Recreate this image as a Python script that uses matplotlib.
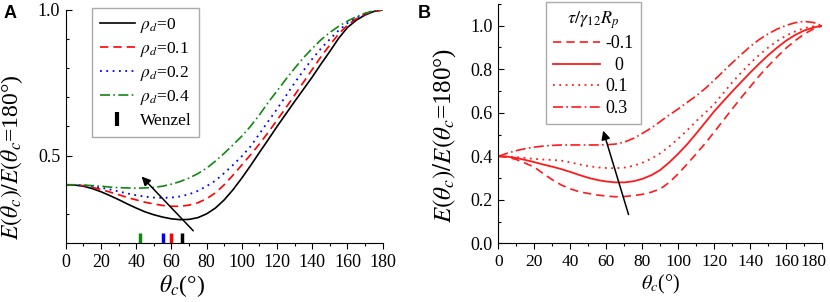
import matplotlib
matplotlib.use("Agg")
import matplotlib.pyplot as plt
from matplotlib.lines import Line2D
from matplotlib.ticker import MultipleLocator
from matplotlib.transforms import ScaledTranslation
import numpy as np

plt.rcParams["font.family"] = ["Liberation Serif", "DejaVu Serif"]
plt.rcParams["mathtext.fontset"] = "stix"
plt.rcParams["font.size"] = 13

# ---- panel A data: rho_d series (every 5 deg) ----
theta = list(range(0, 181, 5))
rho_0 = [0.400, 0.399, 0.395, 0.387, 0.376, 0.363, 0.349, 0.334, 0.320, 0.307, 0.297, 0.289,
         0.283, 0.280, 0.281, 0.287, 0.300, 0.320, 0.348, 0.383, 0.423, 0.466, 0.511, 0.555,
         0.600, 0.643, 0.686, 0.728, 0.770, 0.815, 0.858, 0.903, 0.940, 0.965, 0.983, 0.995, 1.000]
rho_01 = [0.400, 0.399, 0.397, 0.391, 0.384, 0.375, 0.366, 0.356, 0.348, 0.340, 0.334, 0.329,
          0.326, 0.326, 0.330, 0.338, 0.352, 0.372, 0.400, 0.433, 0.468, 0.503, 0.540, 0.580,
          0.622, 0.664, 0.708, 0.752, 0.796, 0.840, 0.880, 0.918, 0.948, 0.970, 0.986, 0.996, 1.000]
rho_02 = [0.400, 0.399, 0.398, 0.394, 0.390, 0.384, 0.377, 0.370, 0.364, 0.359, 0.356, 0.355,
          0.356, 0.360, 0.367, 0.379, 0.395, 0.414, 0.440, 0.468, 0.498, 0.532, 0.575, 0.618,
          0.660, 0.705, 0.750, 0.792, 0.832, 0.868, 0.900, 0.930, 0.955, 0.973, 0.988, 0.997, 1.000]
rho_04 = [0.400, 0.400, 0.399, 0.397, 0.395, 0.392, 0.390, 0.389, 0.388, 0.389, 0.391, 0.395,
          0.402, 0.411, 0.423, 0.438, 0.457, 0.481, 0.508, 0.537, 0.567, 0.601, 0.640, 0.683,
          0.722, 0.762, 0.800, 0.836, 0.868, 0.898, 0.923, 0.944, 0.962, 0.977, 0.989, 0.997, 1.000]
rho_labels = [r"$\rho_d$=0", r"$\rho_d$=0.1", r"$\rho_d$=0.2", r"$\rho_d$=0.4"]
wenzel_theta = [66, 60, 55, 42]
arrow_a = [(73.5, 0.235), (42, 0.435)]

# ---- panel B data: tau / gamma12 Rp series ----
tau_m01 = [0.400, 0.396, 0.385, 0.368, 0.350, 0.320, 0.292, 0.268, 0.250, 0.237, 0.229, 0.222,
           0.217, 0.214, 0.215, 0.219, 0.225, 0.235, 0.250, 0.280, 0.320, 0.365, 0.412, 0.460,
           0.512, 0.565, 0.618, 0.670, 0.720, 0.770, 0.815, 0.858, 0.898, 0.932, 0.962, 0.985, 1.000]
tau_0 = [0.400, 0.398, 0.392, 0.383, 0.373, 0.362, 0.352, 0.341, 0.328, 0.314, 0.301, 0.291,
         0.284, 0.280, 0.280, 0.285, 0.296, 0.313, 0.337, 0.372, 0.412, 0.456, 0.505, 0.556,
         0.607, 0.653, 0.698, 0.742, 0.785, 0.826, 0.865, 0.900, 0.932, 0.958, 0.978, 0.992, 1.000]
tau_01 = [0.400, 0.399, 0.396, 0.392, 0.388, 0.385, 0.383, 0.380, 0.372, 0.363, 0.355, 0.349,
          0.346, 0.345, 0.348, 0.356, 0.370, 0.389, 0.414, 0.445, 0.481, 0.520, 0.562, 0.600,
          0.640, 0.690, 0.740, 0.785, 0.828, 0.866, 0.900, 0.930, 0.955, 0.974, 0.989, 0.997, 1.000]
tau_03 = [0.400, 0.414, 0.426, 0.435, 0.442, 0.447, 0.450, 0.452, 0.452, 0.452, 0.452, 0.452,
          0.453, 0.456, 0.465, 0.482, 0.505, 0.530, 0.560, 0.590, 0.618, 0.648, 0.678, 0.712,
          0.750, 0.790, 0.830, 0.868, 0.905, 0.937, 0.963, 0.985, 1.002, 1.014, 1.020, 1.015, 1.000]
tau_labels = ["-0.1", "  0", "0.1", "0.3"]
arrow_b = [(72.8, 0.12), (57.8, 0.53)]

x_ticks = list(range(0, 181, 20))

red = "#ff1a1a"
green = "#118811"
dashed = (0, (5, 3))
dotted = (0, (1, 2.5))
dashdot = (0, (6, 2, 1, 2))

fig = plt.figure(figsize=(8.3, 3.02), dpi=100)
ax1 = fig.add_axes([0.0792, 0.1954, 0.3819, 0.7715])
ax2 = fig.add_axes([0.6004, 0.1944, 0.3903, 0.7924])

# ---- panel A ----
ax1.plot(theta, rho_0, color="black", lw=1.2, label=rho_labels[0])
ax1.plot(theta, rho_01, color="red", lw=1.2, ls=dashed, label=rho_labels[1])
ax1.plot(theta, rho_02, color="blue", lw=1.3, ls=dotted, label=rho_labels[2])
ax1.plot(theta, rho_04, color=green, lw=1.2, ls=dashdot, label=rho_labels[3])
ax1.vlines(wenzel_theta, 0.2, 0.235, colors=["black", "red", "blue", green], lw=2.5)
ax1.annotate("", xy=arrow_a[1], xytext=arrow_a[0],
             arrowprops=dict(arrowstyle="-|>", color="black", lw=1.1, mutation_scale=13))

ax1.set_xlim(0, 180)
ax1.set_ylim(0.2, 1.0)
ax1.set_yticks([0.5, 1.0])
ax1.yaxis.set_minor_locator(MultipleLocator(0.1))
ax1.set_xlabel(r"$\theta_c$(°)", fontsize=17)
ax1.set_ylabel(r"$E(\theta_c)/E(\theta_c$=180°)", fontsize=17)
ax1.xaxis.set_label_coords(0.367, -0.13)
ax1.yaxis.set_label_coords(-0.13, 0.37)

handles, labels = ax1.get_legend_handles_labels()
handles.append(Line2D([], [], color="black", marker="|", ls="none", markersize=10, mew=3))
labels.append("Wenzel")
ax1.legend(handles, labels, loc="upper left", bbox_to_anchor=(0.083, 1.009), borderaxespad=0,
           fancybox=False, edgecolor="#aaaaaa", framealpha=1, handlelength=2.0,
           handletextpad=0.3, borderpad=0.45, labelspacing=0.3, fontsize=12.5)

# ---- panel B ----
ax2.plot(theta, tau_m01, color=red, lw=1.2, ls=dashed, label=tau_labels[0])
ax2.plot(theta, tau_0, color=red, lw=1.3, label=tau_labels[1])
ax2.plot(theta, tau_01, color=red, lw=1.3, ls=dotted, label=tau_labels[2])
ax2.plot(theta, tau_03, color=red, lw=1.2, ls=dashdot, label=tau_labels[3])
ax2.annotate("", xy=arrow_b[1], xytext=arrow_b[0],
             arrowprops=dict(arrowstyle="-|>", color="black", lw=1.1, mutation_scale=13))

ax2.set_xlim(0, 180)
ax2.set_ylim(0, 1.1)
ax2.set_yticks(np.arange(0, 1.01, 0.2))
ax2.yaxis.set_minor_locator(MultipleLocator(0.1))
ax2.set_xlabel(r"$\theta_c$(°)", fontsize=14.5)
ax2.set_ylabel(r"$E(\theta_c)/E(\theta_c$=180°)", fontsize=18)
ax2.xaxis.set_label_coords(0.5, -0.125)
ax2.yaxis.set_label_coords(-0.125, 0.45)
ax2.legend(loc="upper left", bbox_to_anchor=(0.147, 1.008), borderaxespad=0,
           title=r"$\tau/\gamma_{12}R_p$",
           fancybox=False, edgecolor="#aaaaaa", framealpha=1, handlelength=2.6,
           handletextpad=0.3, borderpad=0.4, labelspacing=0.25, fontsize=13, title_fontsize=13)

for ax in (ax1, ax2):
    ax.spines["top"].set_visible(False)
    ax.spines["right"].set_visible(False)
    ax.set_xticks(x_ticks)
    ax.xaxis.set_minor_locator(MultipleLocator(10))
    ax.tick_params(axis="x", which="major", direction="out", length=4, width=0.8, pad=4)
    ax.tick_params(axis="x", which="minor", direction="out", length=2, width=0.8)
    ax.tick_params(axis="y", which="major", direction="in", length=4, width=0.8, pad=4)
    ax.tick_params(axis="y", which="minor", direction="in", length=2, width=0.8)

ax2.tick_params(axis="x", labelsize=12.5)
# last x label of panel B is pulled in a bit so it stays inside the figure
last = ax2.xaxis.get_major_ticks()[-1].label1
last.set_transform(last.get_transform() + ScaledTranslation(-9 / 100, 0, fig.dpi_scale_trans))

fig.text(0.004, 0.985, "A", fontsize=13, fontweight="bold", family="Liberation Sans", va="top")
fig.text(0.503, 0.985, "B", fontsize=13, fontweight="bold", family="Liberation Sans", va="top")

fig.savefig("out.png", dpi=100)
